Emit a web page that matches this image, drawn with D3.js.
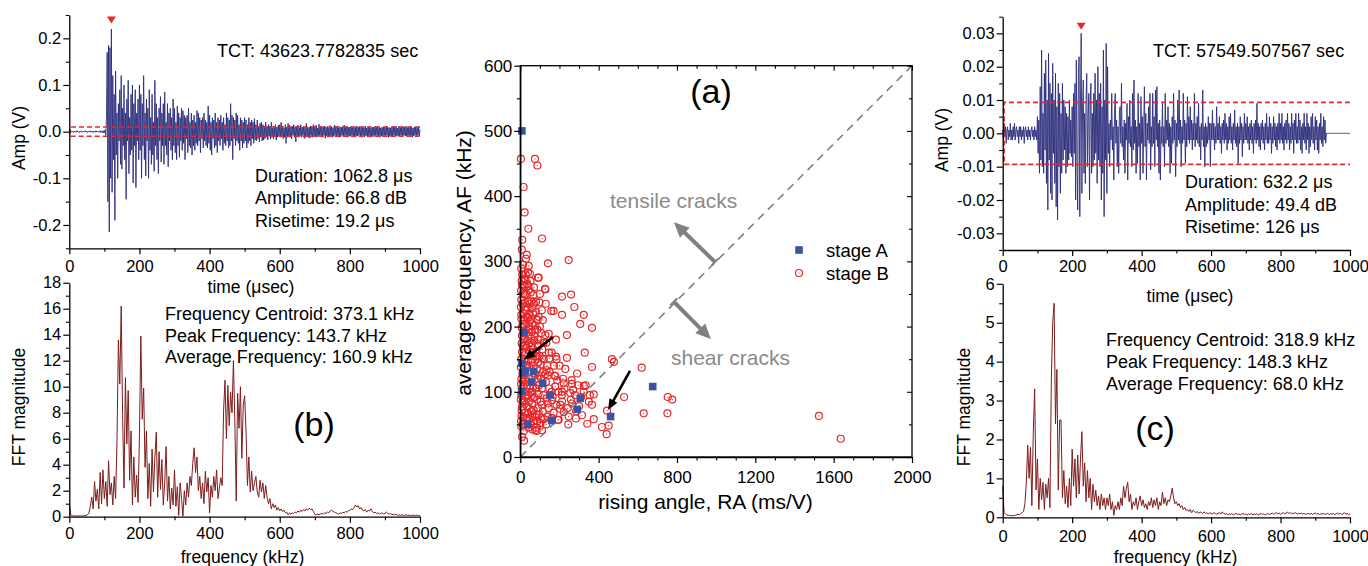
<!DOCTYPE html>
<html><head><meta charset="utf-8">
<script src="https://cdn.jsdelivr.net/npm/d3@7"></script>
<style>
body{margin:0;background:#fff}
svg{display:block}
</style>
</head><body>
<svg id="c" width="1368" height="566"></svg>
<script>
// ---------------- DATA ----------------
const waveStep = 2; // µs between listed samples
// waveform samples in mV
const wave1 = [1,-1,2,0,-1,1,-2,1,0,-1,2,-1,1,0,-2,1,-1,2,0,-1,1,-1,0,2,-1,
1,-2,0,1,-1,2,-1,0,1,-2,1,0,-1,2,-1,1,-1,0,1,-2,2,-1,1,-3,2,
-2,4,-8,30,170,-150,185,-215,180,-100,220,-130,120,-60,80,-190,130,-50,40,-100,60,-20,90,-70,120,
-80,50,-30,100,-60,40,-145,70,-20,110,-90,30,-50,80,-40,100,-110,60,-30,90,-120,40,-20,70,-60,
100,-40,80,-100,60,-30,120,-60,40,-95,70,-20,50,-100,90,-40,30,-70,80,-50,20,-85,110,-30,60,
-60,30,-90,50,-20,75,-65,40,-30,60,-70,85,-30,20,-50,60,-75,40,-20,50,-40,30,-60,70,-30,
50,-45,20,-60,55,-30,40,-55,30,-20,50,-40,45,-25,35,-60,30,-15,35,-45,50,-30,20,-35,40,
-50,25,-30,35,-40,20,-25,45,-30,40,-20,30,-45,25,-15,30,-35,40,-20,25,-30,20,-35,55,-25,
35,-40,20,-50,30,-15,25,-35,40,-30,20,-45,30,-20,25,-30,35,-15,20,-40,30,-25,15,-30,40,
-20,30,-35,25,-30,60,-20,35,-60,30,-15,25,-30,40,-20,35,-25,15,-40,30,-20,25,-35,20,-25,
30,-20,25,-35,15,-25,30,-20,20,-30,25,-15,20,-25,28,-18,15,-20,25,-15,12,-22,18,-12,20,
-20,15,-18,12,-15,20,-12,10,-18,15,-10,12,-16,20,-12,8,-15,12,-10,15,-18,10,-12,14,-10,
15,-12,20,-10,12,-15,8,-12,15,-25,10,-12,18,-10,14,-12,10,-15,12,-8,15,-12,10,-22,12,
-10,14,-12,8,-10,15,-12,10,-8,12,-15,10,-12,18,-10,8,-12,10,-14,12,-8,10,-12,15,-10,
12,-10,14,-12,8,-10,16,-8,12,-10,9,-12,10,-8,12,-14,10,-9,11,-12,8,-10,13,-9,10,
-12,9,-10,14,-8,11,-10,12,-9,8,-12,10,-11,9,-8,12,-10,14,-9,10,-8,11,-12,9,-10,
10,-9,12,-8,10,-11,9,-12,8,-10,12,-9,10,-8,11,-10,9,-12,10,-8,9,-11,12,-9,8,
-10,11,-9,10,-12,8,-10,9,-11,10,-8,12,-9,10,-8,11,-10,9,-12,8,-9,10,-11,9,-8,
10,-9,11,-8,10,-12,9,-10,8,-11,10,-9,12,-8,10,-9,11,-10,8,-9,12,-10,9,-8,10,
-9,11,-8,10,-9,12,-10,8,-9,10,-8,11,-9,10,-12,8,-9,10,-8,11,-10,9,-8,10,-9,
5];
const wave2 = [1,-2,3,-1,2,-3,1,2,-2,1,-1,3,-2,1,-2,2,-1,3,-2,1,2,-1,1,-3,2,
-1,2,-2,1,-1,2,-3,1,2,-1,1,-2,2,-1,1,-2,1,2,-1,1,-2,2,-1,1,-2,
5,-6,4,-12,14,-8,25,-10,6,-12,18,-5,22,-15,10,-23,24,-8,15,-18,12,-20,21,-6,10,
-15,18,-22,8,-26,15,-10,12,-18,6,-12,15,-8,10,-5,8,-12,6,-10,5,-8,10,-6,4,-7,
8,-10,12,-6,15,-20,22,-8,-23,18,23,-25,10,30,-18,8,16,-12,6,-15,10,18,-10,5,12,
-20,8,15,-12,6,-10,12,-8,18,-6,10,-15,20,-8,12,-10,15,-20,8,-12,25,-25,10,-8,27,
-18,20,-6,3,-10,4,-2,12,-5,2,-14,6,12,-3,4,-10,2,-12,6,8,-3,15,-4,2,-8,
4,-12,3,-2,9,-14,5,-3,10,-4,2,-10,12,-5,16,-3,4,-12,2,-9,12,-4,3,-14,11,
-3,5,-12,2,14,-4,6,-14,3,-2,8,-3,12,-11,2,-4,12,-3,5,-10,13,-2,14,-4,3,
-12,4,-14,2,-3,9,-4,2,-10,12,-3,4,-2,8,-4,3,-12,2,-9,5,-3,12,-2,4,-13,
3,-4,10,-2,13,-3,4,-10,2,-3,12,-2,4,-9,3,-4,11,-2,5,-3,8,-2,4,-5,3,
-2,12,-4,3,-2,5,-3,9,-4,2,-8,3,-2,13,-4,2,-10,3,-4,2,-3,5,-2,3,-10,
3,-2,7,-2,3,-5,2,-3,8,-2,3,-2,5,-3,2,-6,3,-2,4,-3,6,-2,3,-5,2,
-3,5,-2,6,-3,2,-5,3,-2,7,-3,2,-4,3,-9,2,-3,5,-2,3,-7,2,-3,6,-2,
3,-2,5,-3,2,-5,3,-2,4,-3,2,-6,3,-2,4,-3,9,-2,3,-4,2,-5,3,-2,4,
-3,2,-5,3,-2,6,-3,2,-3,5,-2,3,-6,2,-3,5,-2,3,-4,2,-5,3,-2,6,-3,
3,-2,6,-3,2,-5,3,-2,4,-3,6,-2,3,-5,2,-3,6,-2,3,-6,4,-2,6,-3,2,
-3,6,-2,4,-5,2,-6,3,-2,6,-3,2,-5,6,-2,3,-6,2,-4,5,-2,6,-3,2,-5,
5,-2,4,-5,2,-6,3,-2,6,-3,2,-4,5,-2,4,-3,0,0,0,0,0,0,0,0,0,
0,0,0,0,0,0,0,0,0,0,0,0,0,0,0,0,0,0,0,0,0,0,0,0,0,
0];
const fftStep = 4; // kHz between listed bins
const fft1 = [1.0,0.15,0.08,0.06,0.05,0.05,0.06,0.05,0.06,0.05,0.07,0.08,0.1,0.15,0.3,
0.8,1.5,0.6,2.7,1.2,2.1,0.6,3.4,1.0,3.6,1.4,2.7,0.8,4.3,1.7,2.6,0.9,3.1,1.4,5.8,13.6,10.2,16.2,7.8,2.2,10.7,5.6,9.7,2.8,6.6,0.9,4.6,1.5,3.2,1.1,
6.2,13.9,7.5,9.9,3.8,6.6,1.4,4.1,0.8,5.2,1.9,4.6,6.5,1.5,5.0,2.1,4.4,0.9,2.6,5.4,1.2,3.1,0.6,2.2,0.9,
3.6,0.8,2.3,0.1,2.6,1.4,0.05,2.0,0.9,2.6,1.5,3.1,2.4,4.1,5.3,3.4,4.6,2.0,3.1,1.4,2.6,1.0,3.5,1.9,3.0,
0.3,2.4,1.5,3.1,2.0,3.6,1.4,2.2,3.0,2.4,8.2,10.5,6.0,10.1,7.0,9.6,8.0,12.0,7.4,1.2,9.5,6.8,10.0,4.5,8.6,
9.3,6.5,2.4,4.6,1.9,3.5,2.0,2.6,3.1,1.9,1.5,2.8,1.9,2.6,1.4,2.4,1.5,1.0,1.4,0.6,1.0,0.7,0.9,0.5,0.7,
0.45,0.6,0.4,0.5,0.3,0.35,0.15,0.3,0.2,0.3,0.25,0.35,0.3,0.45,0.35,0.5,0.4,0.55,0.45,0.6,0.5,0.65,0.55,0.6,0.4,
0.2,0.15,0.2,0.15,0.2,0.25,0.2,0.3,0.25,0.35,0.3,0.45,0.5,0.4,0.35,0.3,0.25,0.2,0.3,0.25,0.35,0.3,0.4,0.35,0.45,
0.5,0.6,0.55,0.7,0.9,0.75,0.85,0.6,0.7,0.5,0.45,0.55,0.35,0.5,0.45,0.6,0.4,0.3,0.35,0.25,0.3,0.2,0.25,0.3,0.2,
0.25,0.35,0.25,0.2,0.25,0.15,0.2,0.15,0.2,0.1,0.15,0.1,0.15,0.1,0.12,0.15,0.1,0.12,0.08,0.1,0.12,0.08,0.1,0.12,0.08,0.1];
const fft2 = [0.8,0.12,0.08,0.06,0.05,0.05,0.04,0.05,0.04,0.05,0.06,0.08,0.06,0.1,0.12,
0.15,0.35,0.9,1.85,1.0,1.8,0.3,2.15,3.3,0.7,1.5,0.2,1.0,0.45,0.9,0.2,0.85,0.5,1.0,0.25,3.5,5.0,5.5,2.4,3.8,0.7,2.5,2.5,0.5,1.2,0.35,0.8,0.25,1.0,0.3,
1.75,0.8,1.5,0.5,1.6,0.6,1.5,2.2,0.8,1.4,0.4,1.2,0.5,1.0,0.2,0.85,0.4,0.7,0.3,0.55,0.2,0.6,0.3,0.5,0.2,
0.5,0.3,0.6,0.2,0.4,0.05,0.3,0.2,0.4,0.2,0.5,0.3,0.8,0.5,0.75,0.9,0.4,0.6,0.2,0.4,0.3,0.5,0.2,0.4,0.55,
0.3,0.45,0.25,0.35,0.2,0.4,0.3,0.5,0.25,0.45,0.3,0.5,0.2,0.4,0.3,0.65,0.35,0.5,0.3,0.45,0.4,0.55,0.75,0.5,0.35,
0.4,0.3,0.35,0.25,0.3,0.2,0.25,0.18,0.2,0.15,0.2,0.12,0.18,0.15,0.12,0.15,0.1,0.14,0.12,0.1,0.14,0.1,0.12,0.08,0.12,
0.1,0.08,0.12,0.1,0.08,0.1,0.12,0.08,0.14,0.1,0.08,0.1,0.06,0.09,0.07,0.1,0.06,0.08,0.1,0.07,0.09,0.06,0.08,0.1,0.07,
0.08,0.06,0.09,0.07,0.1,0.06,0.08,0.07,0.09,0.06,0.08,0.1,0.07,0.09,0.06,0.08,0.1,0.07,0.09,0.11,0.08,0.1,0.12,0.09,0.11,
0.08,0.1,0.12,0.09,0.11,0.13,0.1,0.12,0.09,0.11,0.1,0.12,0.08,0.1,0.09,0.11,0.08,0.1,0.07,0.09,0.1,0.08,0.1,0.07,0.09,
0.11,0.08,0.1,0.07,0.09,0.08,0.1,0.07,0.09,0.1,0.07,0.09,0.08,0.1,0.07,0.09,0.11,0.08,0.1,0.07,0.09,0.12,0.08,0.1,0.07,0.09];
// scatter: [rising angle RA (ms/V), average frequency AF (kHz)]
const stageA = [[8,500],[19,191],[8,144],[12,129],[26,132],[68,131],[56,115],[114,113],[8,100],[153,95],[306,90],[291,73],[161,56],[39,50],[461,62],[676,108]];
const stageB = [[3,457],[75,457],[87,447],[17,414],[22,375],[41,350],[10,333],[111,335],[29,304],[141,297],[247,302],[5,289],[39,283],[94,275],[22,273],[9,264],[128,257],[43,256],[22,249],[66,248],[213,246],[259,249],[5,241],[39,238],[80,238],[276,230],[26,230],[63,228],[158,224],[170,224],[213,218],[5,218],[39,213],[94,215],[324,218],[77,202],[22,202],[306,204],[366,198],[60,192],[128,187],[238,187],[9,186],[26,172],[90,173],[9,161],[60,156],[329,160],[111,151],[148,151],[182,154],[238,152],[468,150],[478,146],[620,137],[366,138],[128,127],[179,124],[290,128],[334,110],[222,113],[264,112],[324,109],[213,100],[255,98],[324,100],[375,96],[530,92],[753,92],[776,88],[162,87],[213,85],[264,82],[366,80],[111,80],[60,82],[9,77],[203,74],[222,69],[247,62],[315,64],[375,58],[443,71],[630,67],[751,67],[417,46],[451,48],[441,35],[196,57],[102,52],[77,41],[9,31],[19,25],[1525,63],[1636,28],[342,51],[245,50],[284,59],[192,57],[111,41],[83,40],[5,47],[7,72],[12,204],[49,209],[88,210],[7,174],[31,168],[92,170],[83,154],[22,156],[134,133],[145,189],[73,185],[46,196],[15,220],[80,222],[3,230],[37,229],[97,237],[24,236],[54,253],[15,251],[90,275],[49,281],[43,293],[26,272],[12,264],[126,258],
[4,55],[6,63],[3,88],[5,95],[7,105],[4,112],[6,120],[3,138],[5,150],[8,198],[6,212],[4,255],[7,270],
[18,40],[22,52],[16,60],[25,68],[20,85],[27,92],[17,108],[24,118],[21,125],[28,140],[19,148],[26,160],[23,180],[29,195],[18,210],[25,225],[21,262],[27,280],
[42,45],[47,58],[40,66],[48,74],[44,85],[41,95],[49,105],[43,120],[46,138],[42,150],[48,162],[45,175],[41,185],[47,200],[44,218],[49,235],[42,262],
[62,42],[66,55],[61,62],[68,72],[64,90],[60,100],[67,108],[63,122],[69,140],[62,150],[65,165],[70,178],[61,205],[66,220],
[82,45],[88,55],[84,65],[91,75],[86,88],[93,97],[81,105],[89,120],[85,135],[92,145],[83,160],[90,180],[87,195],
[102,48],[108,60],[115,70],[104,85],[118,95],[110,105],[106,120],[116,130],[103,142],[112,165],[119,175],[107,190],
[132,50],[138,62],[145,75],[135,90],[148,105],[131,115],[141,125],[137,140],[146,160],[133,175],
[162,60],[170,68],[185,80],[165,92],[178,108],[188,118],[172,140],[160,160],[182,180],
[205,80],[212,95],[225,105],[218,120],[230,135],
[242,75],[258,88],[270,103],[262,118],[280,95],[300,78],[310,92],[285,70],[295,110],[350,85],[355,95],
[10,280],[14,295],[33,310],[8,318],[35,265],[52,270],[30,250],[57,240],[12,235],[33,215],[55,212],[70,235],[18,190],[36,178],[55,182],[75,195],[100,200],[115,210],[14,170],[58,170],[78,162],[98,155],[120,150],[35,140],[55,145],[75,128],[95,125],[12,128],[33,110],[52,98],[72,92],[95,110],[15,115],[30,100],[12,85],[35,78],[55,70],[75,62],[95,65],[30,60],[50,50],[12,50],[120,58],[140,82],[160,100],[150,130],[175,125],[195,100],[200,140],[185,150],[110,225],[130,235],[100,250],[70,260]];
const thr1 = 0.01, thr2 = 0.0093;
const labelsLeftTop = ["TCT: 43623.7782835 sec","Duration: 1062.8 \u03bcs","Amplitude: 66.8 dB","Risetime: 19.2 \u03bcs"];
const labelsRightTop = ["TCT: 57549.507567 sec","Duration: 632.2 \u03bcs","Amplitude: 49.4 dB","Risetime: 126 \u03bcs"];
const labelsLeftFFT = ["Frequency Centroid: 373.1 kHz","Peak Frequency: 143.7 kHz","Average Frequency: 160.9 kHz"];
const labelsRightFFT = ["Frequency Centroid: 318.9 kHz","Peak Frequency: 148.3 kHz","Average Frequency: 68.0 kHz"];

// ---------------- DRAW ----------------
const svg = d3.select("#c");
const FONT = '"Liberation Sans",Arial,sans-serif';
const WAVE = "#2b2d7a", FFTC = "#7e1c1c", RED = "#e5282a", BLUE = "#3a53a3", GRAY = "#8a8a8a";
const TICKFS = 16.5;

function range(a,b,s){const r=[];for(let v=a;v<=b+1e-9;v+=s)r.push(+v.toFixed(6));return r;}

function axis(orient, scale, pos, major, minor, fmt, pad, fs){
  const gen = {left:d3.axisLeft,right:d3.axisRight,bottom:d3.axisBottom,top:d3.axisTop}[orient];
  const tr = (orient==="left"||orient==="right") ? `translate(${pos},0)` : `translate(0,${pos})`;
  const g = svg.append("g").attr("transform",tr);
  g.call(gen(scale).tickValues(major).tickSize(6).tickSizeOuter(0).tickPadding(pad||2).tickFormat(fmt));
  g.select(".domain").attr("stroke","#000").attr("stroke-width",1.3);
  g.selectAll(".tick line").attr("stroke","#000").attr("stroke-width",1.2);
  g.selectAll(".tick text").attr("font-family",FONT).attr("font-size",fs||TICKFS).attr("fill","#000");
  if(minor){
    const m = svg.append("g").attr("transform",tr);
    m.call(gen(scale).tickValues(minor).tickSize(3.5).tickSizeOuter(0).tickFormat(""));
    m.select(".domain").remove();
    m.selectAll(".tick line").attr("stroke","#000").attr("stroke-width",1.1);
  }
  return g;
}
function text(x,y,s,opt){
  opt=opt||{};
  const t = svg.append("text").attr("x",x).attr("y",y).text(s)
    .attr("font-size",opt.fs||18).attr("text-anchor",opt.anchor||"start")
    .attr("font-family",FONT).attr("fill",opt.fill||"#000");
  if(opt.rot) t.attr("x",0).attr("y",0).attr("transform",`translate(${x},${y}) rotate(-90)`);
  return t;
}
function ytext(x,y,s,fs){ return text(x,y,s,{fs:fs||17.5,anchor:"middle",rot:true}); }

// ---- Panel 1: top-left waveform
const x1 = d3.scaleLinear().domain([0,1000]).range([69.3,420]);
const y1 = d3.scaleLinear().domain([-0.25,0.25]).range([248.3,15]);
const wline1 = d3.line().x((d,i)=>x1(i*waveStep)).y(d=>y1(d/1000));
svg.append("path").datum(wave1).attr("d",wline1).attr("fill","none").attr("stroke",WAVE).attr("stroke-width",0.9);
function thrBox(x,y,thr,x0){
  const p = d3.path();
  p.moveTo(x(1000),y(thr)); p.lineTo(x(x0),y(thr)); p.lineTo(x(x0),y(-thr)); p.lineTo(x(1000),y(-thr));
  svg.append("path").attr("d",p.toString()).attr("fill","none").attr("stroke",RED).attr("stroke-width",1.6).attr("stroke-dasharray","5,3");
}
thrBox(x1,y1,thr1,2);
function peakMark(x,y,data,off){
  const i = d3.maxIndex(data); const cx = x(i*waveStep), cy = y(data[i]/1000) - off;
  svg.append("path").attr("d",`M${cx-4.5},${cy-3.5}L${cx+4.5},${cy-3.5}L${cx},${cy+3.5}Z`).attr("fill",RED);
}
peakMark(x1,y1,wave1,9);
axis("left",y1,69.3,[-0.2,-0.1,0,0.1,0.2],[-0.25,-0.15,-0.05,0.05,0.15,0.25],d=>d.toFixed(1),2);
axis("bottom",x1,248.3,range(0,1000,200),range(100,900,200),d=>d,6);
ytext(24.5,138,"Amp (V)");
text(251,293,"time (\u03bcsec)",{fs:17.5,anchor:"middle"});
text(217,57,labelsLeftTop[0]);
labelsLeftTop.slice(1).forEach((s,i)=>text(255,181.7+i*22.5,s));

// ---- Panel 2: bottom-left FFT
const y2 = d3.scaleLinear().domain([0,18]).range([516.7,282.7]);
const fline1 = d3.line().x((d,i)=>x1(i*fftStep)).y(d=>y2(d));
svg.append("path").datum(fft1).attr("d",fline1).attr("fill","none").attr("stroke",FFTC).attr("stroke-width",1);
axis("left",y2,69.3,range(0,18,2),range(1,17,2),d=>d,2);
axis("bottom",x1,516.7,range(0,1000,200),range(100,900,200),d=>d,5);
ytext(24.6,407,"FFT magnitude");
text(242.5,562.5,"frequency (kHz)",{fs:17.5,anchor:"middle"});
labelsLeftFFT.forEach((s,i)=>text(165,320+i*21.7,s));
text(314,436,"(b)",{fs:34,anchor:"middle"});

// ---- Panel 3: centre scatter
const x3 = d3.scaleLinear().domain([0,2000]).range([520.3,912]);
const y3 = d3.scaleLinear().domain([0,600]).range([457,65.7]);
svg.append("line").attr("x1",x3(0)).attr("y1",y3(0)).attr("x2",x3(2000)).attr("y2",y3(600))
  .attr("stroke","#808080").attr("stroke-width",1.6).attr("stroke-dasharray","8,6");
const gB = svg.append("g");
stageB.forEach(d=>{
  gB.append("circle").attr("cx",x3(d[0])).attr("cy",y3(d[1])).attr("r",3.5).attr("fill","none").attr("stroke",RED).attr("stroke-width",1.2);
  gB.append("circle").attr("cx",x3(d[0])).attr("cy",y3(d[1])).attr("r",0.6).attr("fill",RED);
});
const gA = svg.append("g");
stageA.forEach(d=>{
  gA.append("rect").attr("x",x3(d[0])-3.8).attr("y",y3(d[1])-3.8).attr("width",7.6).attr("height",7.6).attr("fill",BLUE);
});
svg.append("rect").attr("x",x3(0)).attr("y",y3(600)).attr("width",x3(2000)-x3(0)).attr("height",y3(0)-y3(600))
  .attr("fill","none").attr("stroke","#000").attr("stroke-width",1.3);
axis("left",y3,x3(0),range(0,600,100),range(50,550,100),d=>d,2,17);
axis("bottom",x3,y3(0),range(0,2000,400),range(100,1900,100).filter(v=>v%400),d=>d,8,17);
{ // mirrored inward ticks
  const mk=(tr,gen,vals,size)=>{const g=svg.append("g").attr("transform",tr);
    g.call(gen.tickValues(vals).tickSize(size).tickSizeOuter(0).tickFormat(""));
    g.select(".domain").remove(); g.selectAll(".tick line").attr("stroke","#000").attr("stroke-width",1.1);};
  mk(`translate(${x3(2000)},0)`,d3.axisLeft(y3),range(0,600,100),5);
  mk(`translate(${x3(2000)},0)`,d3.axisLeft(y3),range(50,550,100),3);
  mk(`translate(0,${y3(600)})`,d3.axisBottom(x3),range(0,2000,400),5);
  mk(`translate(0,${y3(600)})`,d3.axisBottom(x3),range(100,1900,100).filter(v=>v%400),3);
}
ytext(470.6,263,"average frequency, AF (kHz)",21);
text(705.5,509,"rising angle, RA (ms/V)",{fs:21,anchor:"middle"});
text(711,103,"(a)",{fs:34,anchor:"middle"});
text(610,208,"tensile cracks",{fs:21,fill:GRAY});
text(671,365,"shear cracks",{fs:21,fill:GRAY});
// legend
svg.append("rect").attr("x",799-3.8).attr("y",250-3.8).attr("width",7.6).attr("height",7.6).attr("fill",BLUE);
svg.append("circle").attr("cx",799).attr("cy",273).attr("r",3.5).attr("fill","none").attr("stroke",RED).attr("stroke-width",1.2);
svg.append("circle").attr("cx",799).attr("cy",273).attr("r",0.6).attr("fill",RED);
text(826,256.5,"stage A",{fs:18.5});
text(826,279.5,"stage B",{fs:18.5});
function arrow(p0,p1,color,w,hl,hw,tail){
  const a0=[x3(p0[0]),y3(p0[1])], a1=[x3(p1[0]),y3(p1[1])];
  const dx=a1[0]-a0[0], dy=a1[1]-a0[1], L=Math.hypot(dx,dy), ux=dx/L, uy=dy/L;
  const bx=a1[0]-ux*hl, by=a1[1]-uy*hl;
  svg.append("line").attr("x1",a0[0]).attr("y1",a0[1]).attr("x2",bx+ux).attr("y2",by+uy).attr("stroke",color).attr("stroke-width",w);
  svg.append("path").attr("d",`M${a1[0]},${a1[1]}L${bx-uy*hw/2},${by+ux*hw/2}L${bx+uy*hw/2},${by-ux*hw/2}Z`).attr("fill",color);
  if(tail){
    svg.append("line").attr("x1",a0[0]-uy*tail).attr("y1",a0[1]+ux*tail).attr("x2",a0[0]+uy*tail).attr("y2",a0[1]-ux*tail).attr("stroke",color).attr("stroke-width",2);
  }
}
arrow([994,299],[785,360],"#808080",4,15,14,5);
arrow([784,238],[973,181],"#808080",4,15,14,5);
arrow([167,184],[19,149],"#000",2.6,11,9,0);
arrow([560,132],[448,72],"#000",2.6,11,9,0);

// ---- Panel 4: top-right waveform
const x4 = d3.scaleLinear().domain([0,1000]).range([1002.7,1350]);
const y4 = d3.scaleLinear().domain([-0.035,0.035]).range([250,16.7]);
const wline2 = d3.line().x((d,i)=>x4(i*waveStep)).y(d=>y4(d/1000));
svg.append("path").datum(wave2).attr("d",wline2).attr("fill","none").attr("stroke",WAVE).attr("stroke-width",0.9);
thrBox(x4,y4,thr2,4);
peakMark(x4,y4,wave2,7);
axis("left",y4,1002.7,[-0.03,-0.02,-0.01,0,0.01,0.02,0.03],[-0.035,-0.025,-0.015,-0.005,0.005,0.015,0.025,0.035],d=>d.toFixed(2),2);
axis("bottom",x4,250,range(0,1000,200),range(100,900,200),d=>d,4.5);
ytext(948,140,"Amp (V)");
text(1190,301.5,"time (\u03bcsec)",{fs:17.5,anchor:"middle"});
text(1153,56.5,labelsRightTop[0]);
labelsRightTop.slice(1).forEach((s,i)=>text(1185,188.3+i*22.5,s));

// ---- Panel 5: bottom-right FFT
const y5 = d3.scaleLinear().domain([0,6]).range([517.3,283.8]);
const fline2 = d3.line().x((d,i)=>x4(i*fftStep)).y(d=>y5(d));
svg.append("path").datum(fft2).attr("d",fline2).attr("fill","none").attr("stroke",FFTC).attr("stroke-width",1);
axis("left",y5,1002.7,range(0,6,1),range(0.5,5.5,1),d=>d,2);
axis("bottom",x4,517.3,range(0,1000,200),range(100,900,200),d=>d,7);
ytext(969.6,407,"FFT magnitude");
text(1175.5,563,"frequency (kHz)",{fs:17.5,anchor:"middle"});
labelsRightFFT.forEach((s,i)=>text(1106,346+i*22,s));
text(1155,440,"(c)",{fs:34,anchor:"middle"});
</script>
</body></html>
